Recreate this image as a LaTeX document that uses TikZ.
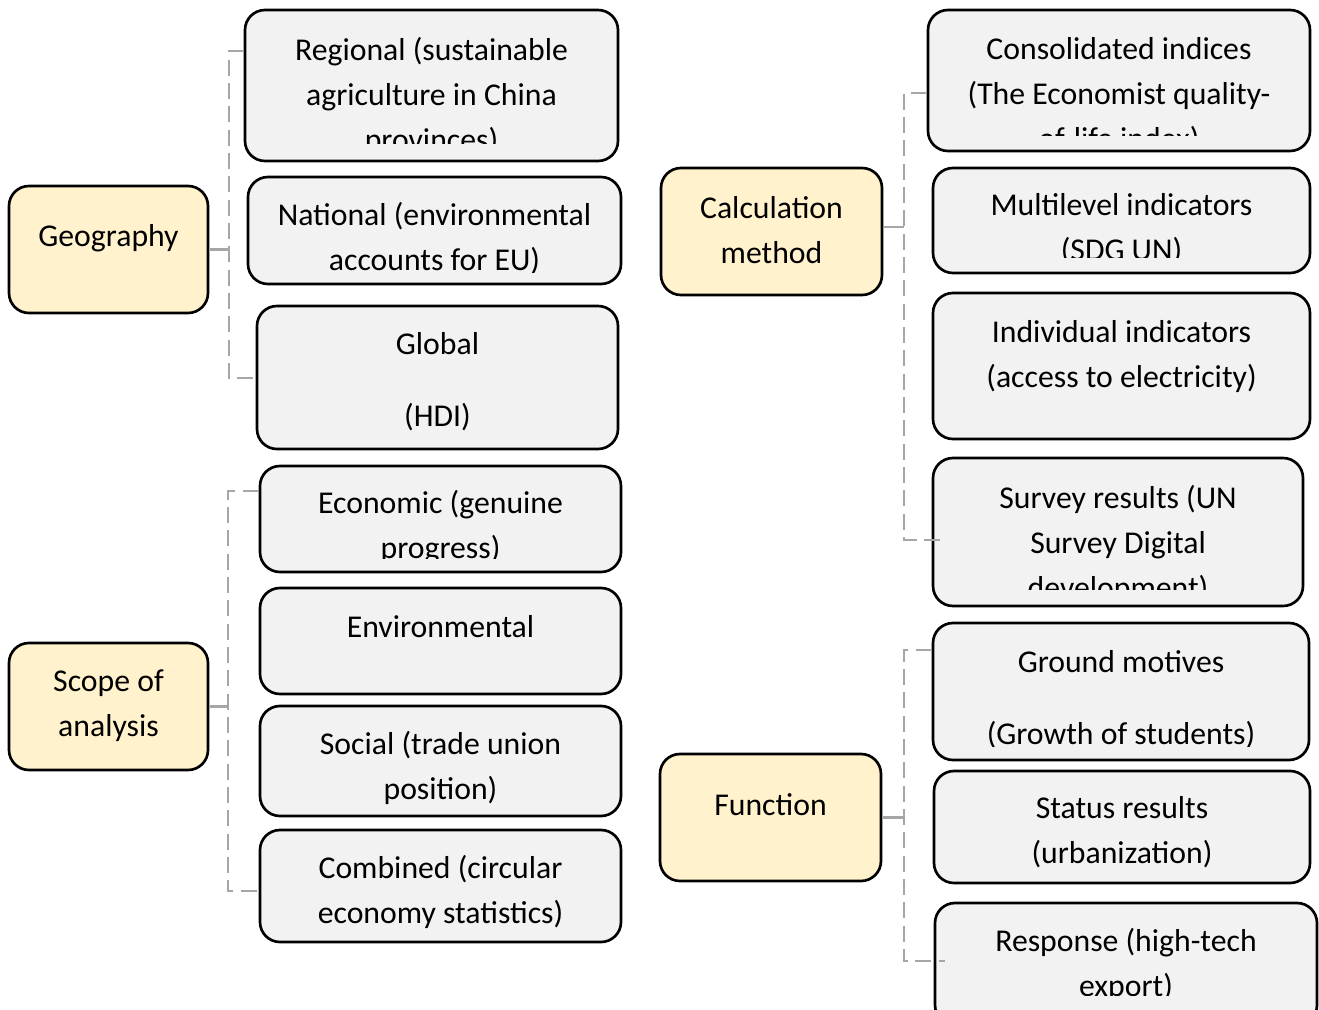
\documentclass[tikz,border=0pt]{standalone}
\usepackage{fontspec}
\setmainfont{Carlito}
\usetikzlibrary{calc}
\definecolor{ybox}{HTML}{FFF2CC}
\definecolor{gbox}{HTML}{F2F2F2}
\definecolor{conn}{HTML}{A6A6A6}
\tikzset{
  x=0.75pt, y=-0.75pt,
  card/.style={draw=black, line width=2pt, rounded corners=15pt, inner sep=0pt},
  catbox/.style={card, fill=ybox},
  itembox/.style={card, fill=gbox},
  txt/.style={align=center, inner sep=0pt, font=\fontsize{23.8}{33.75}\selectfont, text=black},
  bus/.style={draw=conn, line width=2pt, dash pattern=on 12pt off 5.5pt},
  stub/.style={draw=conn, line width=2pt},
}
\newcommand\cliptext[4]{%
  \begin{scope}
    \clip (#1.north west) rectangle (#1.east |- 0,#3);
    \node[txt] (#1t) at (#2) {#4};
  \end{scope}}
\begin{document}
\begin{tikzpicture}
\useasboundingbox (0,0) rectangle (1319,1009);
\clip (0,0) rectangle (1319,1009);
\fill[white] (0,0) rectangle (1319,1009);

% ---------- boxes ----------
\node[catbox, minimum width=199*0.75pt, minimum height=127*0.75pt] (geo) at (108.5,249.5) {};
\node[itembox, minimum width=373*0.75pt, minimum height=151*0.75pt] (reg) at (431.5,85.5) {};
\node[itembox, minimum width=373*0.75pt, minimum height=107*0.75pt] (nat) at (434.5,230.5) {};
\node[itembox, minimum width=361*0.75pt, minimum height=143*0.75pt] (glob) at (437.5,377.5) {};

\node[catbox, minimum width=199*0.75pt, minimum height=127*0.75pt] (scope) at (108.5,706.5) {};
\node[itembox, minimum width=361*0.75pt, minimum height=106*0.75pt] (eco) at (440.5,519) {};
\node[itembox, minimum width=361*0.75pt, minimum height=106*0.75pt] (env) at (440.5,641) {};
\node[itembox, minimum width=361*0.75pt, minimum height=110*0.75pt] (soc) at (440.5,761) {};
\node[itembox, minimum width=361*0.75pt, minimum height=112*0.75pt] (comb) at (440.5,886) {};

\node[catbox, minimum width=221*0.75pt, minimum height=127*0.75pt] (calc) at (771.5,231.5) {};
\node[itembox, minimum width=382*0.75pt, minimum height=141*0.75pt] (cons) at (1119,80.5) {};
\node[itembox, minimum width=377*0.75pt, minimum height=105*0.75pt] (multi) at (1121.5,220.5) {};
\node[itembox, minimum width=377*0.75pt, minimum height=146*0.75pt] (indiv) at (1121.5,366) {};
\node[itembox, minimum width=370*0.75pt, minimum height=148*0.75pt] (surv) at (1118,532) {};

\node[catbox, minimum width=221*0.75pt, minimum height=127*0.75pt] (func) at (770.5,817.5) {};
\node[itembox, minimum width=376*0.75pt, minimum height=137*0.75pt] (ground) at (1121,691.5) {};
\node[itembox, minimum width=376*0.75pt, minimum height=112*0.75pt] (status) at (1122,827) {};
\node[itembox, minimum width=382*0.75pt, minimum height=122*0.75pt] (resp) at (1126,964) {};

% ---------- texts ----------
\node[txt] (geot) at (108.5,238) {Geography};
\cliptext{reg}{431.5,96}{144}{Regional (sustainable\\agriculture in China\\provinces)}
\cliptext{nat}{434.5,238.5}{272}{National (environmental\\accounts for EU)}
\node[txt] (globt) at (437.5,382) {Global\\[20.25pt](HDI)};

\node[txt] (scopet) at (108.5,705.5) {Scope of\\analysis};
\cliptext{eco}{440.5,527.5}{558}{Economic (genuine\\progress)}
\node[txt] (envt) at (440.5,627) {Environmental};
\node[txt] (soct) at (440.5,767.5) {Social (trade union\\position)};
\node[txt] (combt) at (440.5,891.5) {Combined (circular\\economy statistics)};

\node[txt] (calct) at (771.5,230.5) {Calculation\\method};
\cliptext{cons}{1119,95.5}{136}{Consolidated indices\\(The Economist quality-\\of-life index)}
\cliptext{multi}{1121.5,229.5}{257}{Multilevel indicators\\(SDG UN)}
\node[txt] (indivt) at (1121.5,356.5) {Individual indicators\\(access to electricity)};
\cliptext{surv}{1118,544}{589}{Survey results (UN\\Survey Digital\\development)}

\node[txt] (funct) at (770.5,805) {Function};
\cliptext{ground}{1121,699.5}{746}{Ground motives\\[20.25pt](Growth of students)}
\node[txt] (statust) at (1122,832.5) {Status results\\(urbanization)};
\cliptext{resp}{1126,964.5}{995}{Response (high-tech\\export)}

% ---------- connectors ----------
\coordinate (gbus) at (229,0);
\coordinate (sbus) at (228,0);
\coordinate (cbus) at (904,0);
\coordinate (fbus) at (904,0);

\draw[stub] (geo.east) -- (geo.east -| gbus);
\draw[bus] (reg.west |- 0,51) -- (gbus |- 0,51) -- (gbus |- 0,378) -- (glob.west |- 0,378);

\draw[stub] (scope.east) -- (scope.east -| sbus);
\draw[bus] (eco.west |- 0,491) -- (sbus |- 0,491) -- (sbus |- 0,891) -- (comb.west |- 0,891);

\draw[stub] (calc.east |- 0,227) -- (cbus |- 0,227);
\draw[bus] (cons.west |- 0,93) -- (cbus |- 0,93) -- (cbus |- 0,540) -- ([xshift=13*0.75pt]surv.west |- 0,540);

\draw[stub] (func.east) -- (func.east -| fbus);
\draw[bus] (ground.west |- 0,650) -- (fbus |- 0,650) -- (fbus |- 0,961) -- ([xshift=11*0.75pt]resp.west |- 0,961);
\end{tikzpicture}
\end{document}
